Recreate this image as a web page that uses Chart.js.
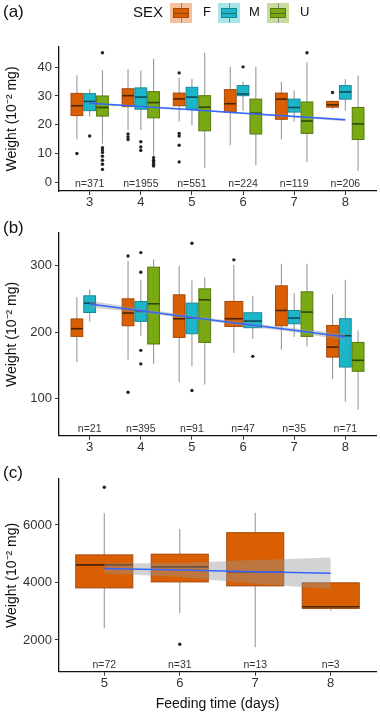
<!DOCTYPE html>
<html>
<head>
<meta charset="utf-8">
<script src="https://cdn.jsdelivr.net/npm/chart.js@4.4.1/dist/chart.umd.min.js"></script>
<style>
  body { margin: 0; background: #fff; font-family: "Liberation Sans", Arial, sans-serif; }
  #wrap { position: relative; width: 380px; height: 713px; overflow: hidden; }
  #wrap canvas { position: absolute; left: 0; }
  .lab { position: absolute; left: 3px; font-size: 17px; color: #111; line-height: 20px; }
  .txt { position: absolute; color: #111; line-height: 20px; top: 2px; }
  .key { position: absolute; top: 3px; width: 22px; height: 20px; }
  .key .box { position: absolute; left: 3px; top: 5px; width: 14px; height: 8px; border: 1px solid; }
  .key .med { position: absolute; left: 0; right: 0; top: 3.5px; height: 1.5px; background: rgba(60,60,60,0.6); }
  .key .wh { position: absolute; left: 10.5px; width: 1px; height: 5px; background: #888; }
</style>
</head>
<body>
<div id="wrap">
  <canvas id="chartA" width="380" height="215" style="top:0"></canvas>
  <canvas id="chartB" width="380" height="245" style="top:215px"></canvas>
  <canvas id="chartC" width="380" height="253" style="top:460px"></canvas>

  <div class="lab" style="top:2px">(a)</div>
  <div class="lab" style="top:218px">(b)</div>
  <div class="lab" style="top:463px">(c)</div>

  <div class="txt" style="left:133px;font-size:15px">SEX</div>
  <div class="key" style="left:170px;background:#f3c19d"><div class="wh" style="top:0"></div><div class="box" style="background:#d95f02;border-color:#a5480a"><div class="med"></div></div><div class="wh" style="top:15px"></div></div>
  <div class="txt" style="left:203px;font-size:13px">F</div>
  <div class="key" style="left:218px;background:#a9e4eb"><div class="wh" style="top:0"></div><div class="box" style="background:#1db6c9;border-color:#148a99"><div class="med"></div></div><div class="wh" style="top:15px"></div></div>
  <div class="txt" style="left:249px;font-size:13px">M</div>
  <div class="key" style="left:267px;background:#c6dd9c"><div class="wh" style="top:0"></div><div class="box" style="background:#79a913;border-color:#56790d"><div class="med"></div></div><div class="wh" style="top:15px"></div></div>
  <div class="txt" style="left:300px;font-size:13px">U</div>
</div>

<script>
// ---- data ----
const daysAB = [3, 4, 5, 6, 7, 8];
const daysC = [5, 6, 7, 8];
const yTicksA = [0, 10, 20, 30, 40];
const yTicksB = [100, 200, 300];
const yTicksC = [2000, 4000, 6000];
const nA = ['n=371', 'n=1955', 'n=551', 'n=224', 'n=119', 'n=206'];
const nB = ['n=21', 'n=395', 'n=91', 'n=47', 'n=35', 'n=71'];
const nC = ['n=72', 'n=31', 'n=13', 'n=3'];

// box stats: [lower whisker, Q1, median, Q3, upper whisker]
const aF = [[14.9, 23.2, 26.6, 30.9, 37.1], [18.2, 26.3, 30.1, 32.5, 39.4], [21.1, 26.6, 29.0, 31.0, 36.3],
            [12.9, 24.4, 27.3, 32.2, 40.1], [14.9, 21.9, 28.9, 31.0, 34.9], [25.4, 26.1, 26.9, 28.1, 28.5]];
const aM = [[22.8, 24.9, 28.1, 30.8, 32.4], [18.2, 25.4, 29.6, 32.8, 38.9], [19.9, 25.4, 29.6, 33.0, 35.9],
            [24.9, 30.1, 30.7, 33.6, 34.9], [21.1, 24.4, 26.0, 28.9, 31.9], [24.9, 28.9, 31.4, 33.6, 35.9]];
const aU = [[13.4, 23.0, 26.0, 30.0, 38.9], [9.1, 22.4, 27.7, 31.5, 42.9], [5.1, 17.9, 26.1, 30.1, 45.0],
            [5.9, 16.8, 24.0, 28.9, 40.1], [7.1, 17.0, 21.3, 27.9, 41.7], [4.0, 14.9, 20.3, 26.0, 37.1]];
const aFOut = [[10.0], [16.8, 15.8, 14.9], [38.0, 17.0, 16.1, 12.9, 7.1], [], [], [31.2]];
const aMOut = [[16.1], [14.1, 12.3, 11.1], [], [40.1], [], []];
const aUOut = [[45.0, 12.0, 11.2, 10.4, 9.1, 7.7, 6.3, 4.5], [8.6, 7.7, 7.1, 6.3, 5.7], [], [], [45.0], []];

const bF = [[155, 193.4, 205.0, 219.7, 252.5], [158.4, 209.4, 228.5, 250, 307], [124.3, 191.9, 219.9, 256, 299.5],
            [168.4, 208.4, 220, 246, 301], [173.4, 209.4, 232.4, 269.5, 302.6], [129.3, 162.3, 177.3, 209.9, 257]];
const bM = [[216, 229.4, 243.5, 254.5, 264.5], [194.4, 216, 231, 246, 278.5], [148.4, 197.4, 221, 243.5, 277.5],
            [189.4, 206.5, 216.5, 229, 254.5], [192.5, 212.4, 221, 232.4, 258.5], [95, 147.3, 194.4, 220, 278.5]];
const bU = [null, [152, 182, 242.5, 297.6, 309.6], [120.9, 184.4, 248.5, 265, 282],
            null, [178.4, 193.4, 230, 260.5, 302.6], [83, 140.9, 157.4, 184.4, 202.4]];
const bFOut = [[], [314.5, 109.3], [], [308.6], [], []];
const bMOut = [[], [319.5, 290, 172.4, 152], [333.6, 112], [163.4], [], []];
const bUOut = [[], [], [], [], [], []];

const cF = [[2407, 3812, 4612, 4960, 6407], [2928, 4020, 4543, 4985, 5860],
            [1746, 3882, 4370, 5733, 6428], [3020, 3098, 3154, 3988, 3988]];
const cFOut = [[7311], [1850], [], []];

// fitted trend and its band
const fitA = [27.5, 26.3, 25.2, 24.0, 22.9, 21.7];
const fitALo = [27.1, 26.0, 24.95, 23.7, 22.5, 21.2];
const fitAHi = [27.9, 26.6, 25.45, 24.3, 23.3, 22.2];
const fitB = [242, 232, 222, 212, 202.5, 192.5];
const fitBLo = [237, 229, 219.5, 209.5, 199.5, 187.5];
const fitBHi = [247, 235, 224.5, 214.5, 205.5, 197.5];
const fitC = [4487, 4432, 4378, 4323];
const fitCLo = [4320, 4190, 3960, 3777];
const fitCHi = [4660, 4680, 4780, 4870];

// ---- styling ----
const sexStyle = [
  { fill: '#d95f02', line: '#a5480a', med: '#4a2406' },
  { fill: '#1db6c9', line: '#148a99', med: '#0b4a53' },
  { fill: '#79a913', line: '#56790d', med: '#2f4407' }
];
const fontFam = '"Liberation Sans", Arial, sans-serif';

// where a box sits relative to its day, and how wide it is (x units)
function dodgeDefault(day, gi) { return { off: [-0.25, 0, 0.25][gi], w: 0.23 }; }
function dodgeB(day, gi) {
  if (day === 6) return { off: [-0.18, 0.19][gi], w: 0.35 };
  return dodgeDefault(day, gi);
}
function dodgeC() { return { off: 0, w: 0.756 }; }

function boxPlugin(days, groups, dodge, nLabels) {
  return {
    id: 'boxes',
    beforeDatasetsDraw(chart) {
      const { ctx, scales: { x, y } } = chart;
      ctx.save();
      groups.forEach((stats, gi) => {
        const st = sexStyle[gi];
        stats.forEach((s, di) => {
          if (!s) return;
          const d = dodge(days[di], gi);
          const cx = x.getPixelForValue(days[di] + d.off);
          const hw = (x.getPixelForValue(d.w) - x.getPixelForValue(0)) / 2;
          const [lo, q1, md, q3, hi] = s.map(v => y.getPixelForValue(v));
          // whiskers
          ctx.strokeStyle = '#9a9a9a';
          ctx.lineWidth = 1.1;
          ctx.beginPath();
          ctx.moveTo(cx, lo); ctx.lineTo(cx, q1);
          ctx.moveTo(cx, q3); ctx.lineTo(cx, hi);
          ctx.stroke();
          // box
          ctx.fillStyle = st.fill;
          ctx.fillRect(cx - hw, q3, hw * 2, q1 - q3);
          ctx.strokeStyle = st.line;
          ctx.lineWidth = 1;
          ctx.strokeRect(cx - hw, q3, hw * 2, q1 - q3);
          // median
          ctx.strokeStyle = st.med;
          ctx.lineWidth = 1.6;
          ctx.beginPath();
          ctx.moveTo(cx - hw, md); ctx.lineTo(cx + hw, md);
          ctx.stroke();
        });
      });
      ctx.restore();
    },
    afterDatasetsDraw(chart) {
      const { ctx, chartArea, scales: { x } } = chart;
      ctx.save();
      ctx.font = '10.5px ' + fontFam;
      ctx.fillStyle = '#333';
      ctx.textAlign = 'center';
      ctx.textBaseline = 'middle';
      nLabels.forEach((t, i) => ctx.fillText(t, x.getPixelForValue(days[i]), chartArea.bottom - 7));
      ctx.restore();
    }
  };
}

function makePanel(id, p) {
  const outPts = [];
  p.outs.forEach((arr, gi) => arr.forEach((vals, di) => {
    const d = p.dodge(p.days[di], gi);
    vals.forEach(v => outPts.push({ x: p.days[di] + d.off, y: v }));
  }));
  const pts = arr => arr.map((v, i) => ({ x: p.days[i], y: v }));

  new Chart(document.getElementById(id), {
    type: 'line',
    data: {
      datasets: [
        { type: 'scatter', data: outPts, pointRadius: 1.7, backgroundColor: '#222', borderWidth: 0, order: 3 },
        { data: pts(p.hi), borderWidth: 0, pointRadius: 0, fill: '+1', backgroundColor: 'rgba(150,150,150,0.42)', order: 2 },
        { data: pts(p.lo), borderWidth: 0, pointRadius: 0, fill: false, order: 2 },
        { data: pts(p.fit), borderColor: '#3366ff', borderWidth: 1.5, pointRadius: 0, fill: false, order: 1 }
      ]
    },
    options: {
      responsive: false,
      animation: false,
      layout: { padding: { top: p.top, right: 1, left: 0, bottom: 0 } },
      plugins: { legend: { display: false }, tooltip: { enabled: false } },
      scales: {
        x: {
          type: 'linear', min: p.xMin, max: p.xMax,
          afterBuildTicks: s => { s.ticks = p.days.map(v => ({ value: v })); },
          afterFit: s => { s.height = p.xAxisH; },
          grid: { display: true, drawOnChartArea: false, drawTicks: true, tickLength: 4, color: '#333', lineWidth: 1 },
          border: { display: true, color: '#111', width: 1.3 },
          ticks: { color: '#333', padding: 0, font: { size: 13, family: fontFam }, callback: v => String(v) },
          title: p.xTitle ? { display: true, text: p.xTitle, color: '#111', font: { size: 14, family: fontFam }, padding: { top: 0, bottom: 0 } } : { display: false }
        },
        y: {
          min: p.yMin, max: p.yMax,
          afterBuildTicks: s => { s.ticks = p.yTicks.map(v => ({ value: v })); },
          afterFit: s => { s.width = 59; },
          grid: { display: true, drawOnChartArea: false, drawTicks: true, tickLength: 4, color: '#333', lineWidth: 1 },
          border: { display: true, color: '#111', width: 1.3 },
          ticks: { color: '#333', padding: 3, font: { size: 13, family: fontFam }, callback: v => String(v) },
          title: { display: true, text: 'Weight (10⁻² mg)', color: '#111', font: { size: 14, family: fontFam }, padding: { top: 4, bottom: 0 } }
        }
      }
    },
    plugins: [boxPlugin(p.days, p.stats, p.dodge, p.n)]
  });
}

makePanel('chartA', {
  days: daysAB, stats: [aF, aM, aU], outs: [aFOut, aMOut, aUOut],
  fit: fitA, lo: fitALo, hi: fitAHi, n: nA, dodge: dodgeDefault,
  xMin: 2.4, xMax: 8.6, yMin: -3, yMax: 47, yTicks: yTicksA, top: 47, xAxisH: 24
});
makePanel('chartB', {
  days: daysAB, stats: [bF, bM, bU], outs: [bFOut, bMOut, bUOut],
  fit: fitB, lo: fitBLo, hi: fitBHi, n: nB, dodge: dodgeB,
  xMin: 2.4, xMax: 8.6, yMin: 44, yMax: 349, yTicks: yTicksB, top: 18, xAxisH: 24.3
});
makePanel('chartC', {
  days: daysC, stats: [cF], outs: [cFOut],
  fit: fitC, lo: fitCLo, hi: fitCHi, n: nC, dodge: dodgeC,
  xMin: 4.4, xMax: 8.6, yMin: 897, yMax: 7600, yTicks: yTicksC, top: 19, xAxisH: 41.3,
  xTitle: 'Feeding time (days)'
});
</script>
</body>
</html>
